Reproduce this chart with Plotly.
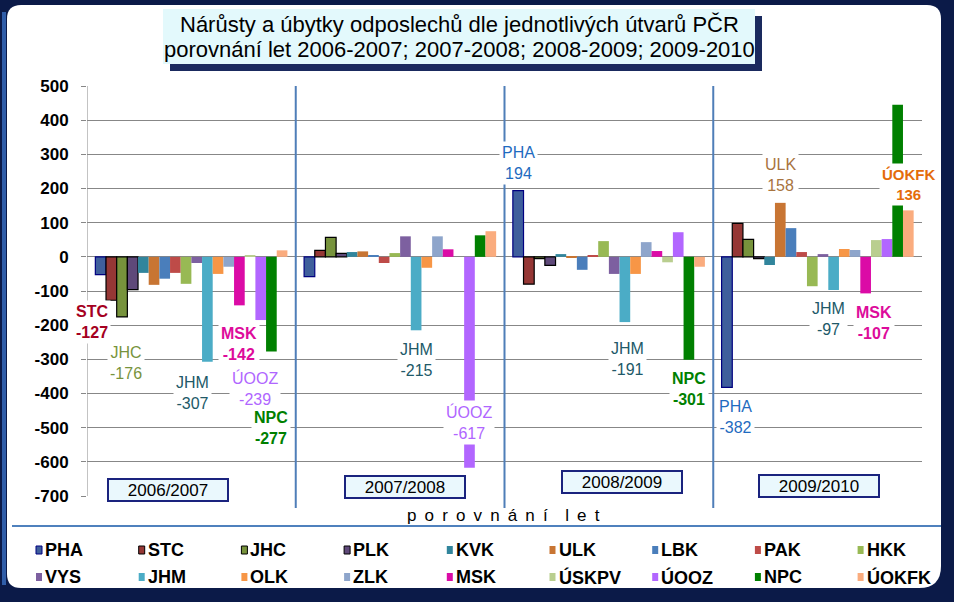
import plotly.graph_objects as go

# ---------------- data ----------------
periods = ["2006/2007", "2007/2008", "2008/2009", "2009/2010"]
series = ["PHA", "STC", "JHC", "PLK", "KVK", "ULK", "LBK", "PAK", "HKK",
          "VYS", "JHM", "OLK", "ZLK", "MSK", "ÚSKPV", "ÚOOZ", "NPC", "ÚOKFK"]

PHA = [-52, -58, 194, -382]
STC = [-127, 19, -80, 98]
JHC = [-176, 57, -5, 51]
PLK = [-96, 10, -25, -5]
KVK = [-47, 14, 8, -24]
ULK = [-82, 16, -3, 158]
LBK = [-64, 5, -38, 84]
PAK = [-47, -18, 5, 14]
HKK = [-79, 11, 46, -86]
VYS = [-18, 60, -50, 8]
JHM = [-307, -215, -191, -97]
OLK = [-50, -32, -50, 23]
ZLK = [-29, 60, 43, 20]
MSK = [-142, 22, 17, -107]
USKPV = [4, 0, -16, 49]
UOOZ = [-185, -617, 72, 52]
NPC = [-277, 63, -301, 445]
UOKFK = [19, 75, -29, 136]
values = [PHA, STC, JHC, PLK, KVK, ULK, LBK, PAK, HKK,
          VYS, JHM, OLK, ZLK, MSK, USKPV, UOOZ, NPC, UOKFK]

# value labels as printed in the chart: (period index, series index, printed value)
label_period = [0, 0, 0, 0, 0, 0, 1, 1, 2, 2, 2, 3, 3, 3, 3, 3, 3]
label_series = [1, 2, 10, 13, 15, 16, 10, 15, 0, 10, 16, 0, 5, 10, 13, 16, 17]
label_value = ["-127", "-176", "-307", "-142", "-239", "-277", "-215", "-617",
               "194", "-191", "-301", "-382", "158", "-97", "-107", "445", "136"]

y_ticks = [500, 400, 300, 200, 100, 0, -100, -200, -300, -400, -500, -600, -700]

title_lines = ["Nárůsty a úbytky odposlechů dle jednotlivých útvarů PČR",
               "porovnání let 2006-2007; 2007-2008; 2008-2009; 2009-2010"]
axis_title_words = ["porovnání", "let"]

# ---------------- styles ----------------
colors = ["#3F5F9C", "#953735", "#77933C", "#5F497A", "#31859C", "#C87533",
          "#4A7EBB", "#BE4B48", "#98B954", "#7D60A0", "#4BACC6", "#F79646",
          "#8EA5CB", "#DB0BA6", "#B9CE8F", "#B266FF", "#008000", "#FAAC7E"]
line_colors = ["#000080", "#000000", "#000000", "#000000"] + [None] * 14

label_colors = {"STC": "#A50021", "JHC": "#77933C", "JHM": "#215968", "MSK": "#DD0B9B",
                "ÚOOZ": "#B066FF", "NPC": "#008000", "PHA": "#1F6BC0", "ULK": "#A8743F",
                "ÚOKFK": "#E46C0A"}
label_bold = {"STC": True, "MSK": True, "NPC": True, "ÚOKFK": True}
# label positions: centre y in data units, horizontal shift in px
label_y = [-190, -311, -399, -255, -384, -501, -302, -486,
           275, -299, -387, -469, 240, -182, -193, 526, 213]
label_dx = [-19, 4, -15, 0, -6, 0, 0, 0, 0, 3, 0, 9, 0, -5, 8, 10, 0]

L, R, T, B = 87, 922, 86, 496
W, H = 954, 602


def px(x):
    return (x - L) / (R - L)


def py(y):
    return (B - y) / (B - T)


fig = go.Figure()
for i, name in enumerate(series):
    lc = line_colors[i]
    fig.add_trace(go.Bar(
        x=periods, y=values[i], name=name,
        marker=dict(color=colors[i],
                    line=dict(color=lc if lc else colors[i], width=1.2 if lc else 0)),
        showlegend=False))

bargap = 0.08
ngroups = len(series)
bw = (1 - bargap) / ngroups

shapes = []
annotations = []

# white rounded panel
x0, y0, x1, y1 = 7, 5, 941, 588
r1, r2 = 14, 22
path = (f"M {px(x0)},{py(y0 + r1)} Q {px(x0)},{py(y0)} {px(x0 + r1)},{py(y0)} "
        f"L {px(x1 - r1)},{py(y0)} Q {px(x1)},{py(y0)} {px(x1)},{py(y0 + r1)} "
        f"L {px(x1)},{py(y1 - r2)} Q {px(x1)},{py(y1)} {px(x1 - r2)},{py(y1)} "
        f"L {px(x0 + r1)},{py(y1)} Q {px(x0)},{py(y1)} {px(x0)},{py(y1 - r1)} Z")
shapes.append(dict(type="path", xref="paper", yref="paper", path=path,
                   fillcolor="white", line=dict(width=0), layer="below"))
# left blue edge
shapes.append(dict(type="line", xref="paper", yref="paper", x0=px(4), x1=px(4),
                   y0=py(12), y1=py(585), line=dict(color="#2F5DA8", width=4), layer="below"))

# title box with shadow
shapes.append(dict(type="rect", xref="paper", yref="paper", x0=px(170), x1=px(762),
                   y0=py(16), y1=py(71), fillcolor="#1A2A5E", line=dict(width=0)))
shapes.append(dict(type="rect", xref="paper", yref="paper", x0=px(163), x1=px(755),
                   y0=py(9), y1=py(64), fillcolor="#E3F9FC", line=dict(width=0)))
for k, (txt, ty) in enumerate(zip(title_lines, [24, 50])):
    annotations.append(dict(xref="paper", yref="paper", x=px(459), y=py(ty),
                            text=txt, showarrow=False, xanchor="center", yanchor="middle",
                            font=dict(family="Liberation Sans", size=22, color="black")))

# left axis line (gray) and group separators (blue)
shapes.append(dict(type="line", xref="x", yref="paper", x0=-0.5, x1=-0.5,
                   y0=0, y1=1, line=dict(color="#878787", width=1)))
for k in range(1, len(periods)):
    shapes.append(dict(type="line", xref="x", yref="paper", x0=k - 0.5, x1=k - 0.5,
                       y0=py(508), y1=1, line=dict(color="#4F7EB8", width=2)))

# period boxes
box_cx = [168, 405, 622, 819]
box_cy = [490, 487, 482, 486]
for k, p in enumerate(periods):
    annotations.append(dict(xref="paper", yref="paper", x=px(box_cx[k]), y=py(box_cy[k]),
                            text=p, showarrow=False, xanchor="center", yanchor="middle",
                            width=118, height=20, bgcolor="#EAF8FD",
                            bordercolor="#1A237E", borderwidth=2, borderpad=0,
                            font=dict(family="Liberation Sans", size=17, color="black")))

# axis title (letter-spaced)
sp = "\u2009 "
axis_title = ("\u2009\u00a0\u00a0\u00a0").join(sp.join(w) for w in axis_title_words)
annotations.append(dict(xref="paper", yref="paper", x=px(503), y=py(515),
                        text=axis_title, showarrow=False,
                        xanchor="center", yanchor="middle",
                        font=dict(family="Liberation Sans", size=17, color="black")))

# legend separator line
shapes.append(dict(type="line", xref="paper", yref="paper", x0=px(12), x1=px(941),
                   y0=py(526), y1=py(526), line=dict(color="#4F81BD", width=2)))

# value labels
for j in range(len(label_value)):
    p = label_period[j]
    s = label_series[j]
    name = series[s]
    xc = p + (s - (ngroups - 1) / 2) * bw
    txt = f"{name}<br>{label_value[j]}"
    if label_bold.get(name):
        txt = f"<b>{name}</b><br><b>{label_value[j]}</b>"
    annotations.append(dict(xref="x", yref="y", x=xc, y=label_y[j], xshift=label_dx[j],
                            text=txt, showarrow=False, xanchor="center", yanchor="middle",
                            bgcolor="white", borderpad=2,
                            font=dict(family="Liberation Sans",
                                      size=15 if name == "ÚOKFK" else 16,
                                      color=label_colors[name])))

# custom legend
for i, name in enumerate(series):
    row, col = divmod(i, 9)
    lx = 36 + col * 102.7
    ly = 550 + row * 27
    lc = line_colors[i]
    shapes.append(dict(type="rect", xref="paper", yref="paper",
                       x0=px(lx), x1=px(lx + 6), y0=py(ly - 4), y1=py(ly + 4),
                       fillcolor=colors[i],
                       line=dict(color=lc if lc else colors[i], width=1 if lc else 0)))
    annotations.append(dict(xref="paper", yref="paper", x=px(lx + 7), y=py(ly),
                            text=f"<b>{name}</b>", showarrow=False,
                            xanchor="left", yanchor="middle",
                            font=dict(family="Liberation Sans", size=18, color="black")))

fig.update_layout(
    width=W, height=H,
    margin=dict(l=L, r=W - R, t=T, b=H - B, pad=0),
    paper_bgcolor="#0B1A48",
    plot_bgcolor="rgba(0,0,0,0)",
    barmode="group", bargap=bargap, bargroupgap=0,
    xaxis=dict(range=[-0.5, 3.5], showticklabels=False, showgrid=False,
               zeroline=False, showline=False, ticks=""),
    yaxis=dict(range=[-700, 500], tickvals=y_ticks, ticktext=[str(v) for v in y_ticks],
               showgrid=True, gridcolor="#878787", gridwidth=1,
               zeroline=True, zerolinecolor="#878787", zerolinewidth=1,
               ticks="outside", ticklen=5, tickcolor="#878787",
               ticklabelstandoff=9,
               tickfont=dict(family="Liberation Sans", size=17, color="black", weight="bold"),
               showline=False),
    shapes=shapes, annotations=annotations,
    font=dict(family="Liberation Sans"),
)

fig.write_html("out.html", config={"displayModeBar": False},
               post_script="document.body.style.margin='0';document.body.style.overflow='hidden';")
